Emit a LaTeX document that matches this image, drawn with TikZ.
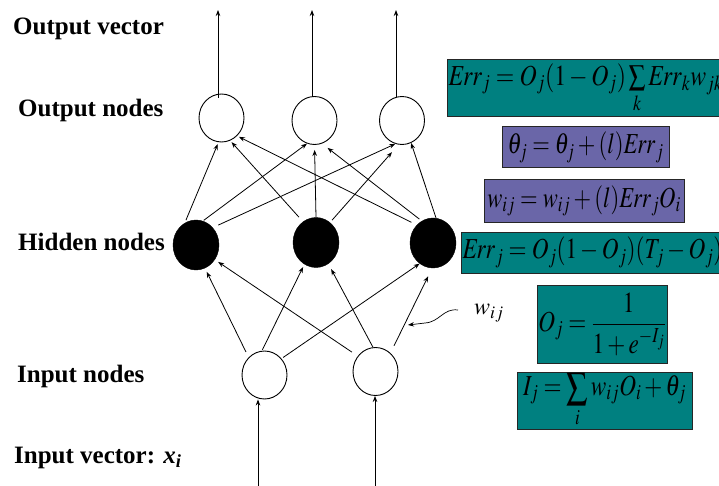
\documentclass[tikz,border=0pt]{standalone}
\usepackage{amsmath}
\usepackage{graphicx}
\usepackage{mathptmx}
\usepackage{fontspec}
\setmainfont{Liberation Serif}
\usetikzlibrary{shapes.geometric,arrows.meta}
\definecolor{tealc}{RGB}{0,128,128}
\definecolor{purplec}{RGB}{106,102,168}
\newcommand{\sqz}[2]{\scalebox{#1}[1]{#2}}
\newcommand{\bigsum}{\mathop{\raisebox{-0.12em}{\scalebox{1.3}{$\sum$}}}}
\tikzset{
  onode/.style={ellipse, draw, line width=0.9pt, fill=white, minimum width=45pt, minimum height=48pt, inner sep=0pt},
  hnode/.style={ellipse, draw, fill=black, minimum width=46pt, minimum height=50pt, inner sep=0pt},
  arr/.style={-{Stealth[length=6pt,width=4.5pt]}, line width=0.8pt},
  lab/.style={anchor=base west, inner sep=0pt, font=\bfseries\fontsize{25}{30}\selectfont},
  fbox/.style={draw=black!85, line width=1pt, inner sep=1pt, font=\fontsize{29}{33}\selectfont},
  tealbox/.style={fbox, fill=tealc},
  purplebox/.style={fbox, fill=purplec},
}
\begin{document}
\begin{tikzpicture}[x=1pt,y=-1pt]
\useasboundingbox (0,0) rectangle (719,486);
% labels
\node[lab] (lov) at (13,35) {Output vector};
\node[lab] (lon) at (18,117) {Output nodes};
\node[lab] (lhn) at (18,250) {Hidden nodes};
\node[lab] (lin) at (17,382) {Input nodes};
\node[lab] (liv) at (14,463) {Input vector: \textit{x}\textsubscript{\textit{i}}};
% nodes
\node[onode] (O1) at (221.5,118) {};
\node[onode] (O2) at (314.5,120.5) {};
\node[onode] (O3) at (402,120.5) {};
\node[hnode] (H1) at (196,245) {};
\node[hnode] (H2) at (316,242.5) {};
\node[hnode] (H3) at (433,243) {};
\node[onode] (I1) at (264.5,375) {};
\node[onode] (I2) at (375.5,371.5) {};
% output arrows
\coordinate (e1) at (218,10);
\coordinate (e2) at (312,10);
\coordinate (e3) at (396,10);
\draw[arr] ([yshift=-4pt]O1.north -| e1) -- (e1);
\draw[arr] ([yshift=-1pt]O2.north -| e2) -- (e2);
\draw[arr] ([yshift=-1pt]O3.north -| e3) -- (e3);
% input arrows
\coordinate (s1) at (258,490);
\coordinate (s2) at (375,490);
\draw[arr] (s1) -- (s1 |- I1.south);
\draw[arr] (s2) -- (s2 |- I2.south);
% hidden -> output
\draw[arr, shorten <=3pt, shorten >=2pt] (H1.117) -- (O1.263);
\draw[arr, shorten <=1pt] (H1.74) -- (O2.252);
\draw[arr, shorten <=6pt] (H1.46) -- (O3.254);
\draw[arr, shorten <=6pt, shorten >=2pt] (H2.122) -- (O1.291);
\draw[arr, shorten >=5pt] (H2.north) -- (O2.south);
\draw[arr, shorten <=3pt, shorten >=10pt] (H2.55) -- (O3.262);
\draw[arr, shorten <=6pt, shorten >=2pt] (H3.132) -- (O1.311);
\draw[arr, shorten <=3pt, shorten >=7pt] (H3.117) -- (O2.288);
\draw[arr] (H3.83) -- (O3.292);
% input -> hidden
\draw[arr, shorten <=6pt, shorten >=4pt] (I1.132) -- (H1.291);
\draw[arr, shorten <=1pt, shorten >=3pt] (I1.96) -- (H2.242);
\draw[arr, shorten <=2pt] (I1.44) -- (H3.237);
\draw[arr, shorten <=7pt, shorten >=4pt] (I2.139) -- (H1.322);
\draw[arr, shorten >=6pt] (I2.96) -- (H2.300);
\draw[arr, shorten <=8pt, shorten >=9pt] (I2.51) -- (H3.268);
% w_ij annotation
\node[anchor=west, inner sep=0pt, font=\fontsize{24}{28}\selectfont] (wl) at (474,313) {$w_{ij}$};
\coordinate (ws) at (458,310);
\coordinate (we) at (408,325);
\draw[arr, line width=0.7pt] (ws) .. controls (443,308) and (440,322) .. (425,323) -- (we);
% formula boxes
\node[tealbox, anchor=west, minimum height=57pt] (f1) at (447,88.5)
  {\sqz{0.82}{$\mathit{Err}_j = O_j(1-O_j)\sum\limits_k \mathit{Err}_k w_{jk}$}\hspace{20pt}};
\node[purplebox, minimum width=167pt, minimum height=41pt] (f2) at (585.5,147.5)
  {\sqz{0.78}{$\theta_j = \theta_j + (l)\mathit{Err}_j$}};
\node[purplebox, minimum width=200pt, minimum height=42pt] (f3) at (584,201)
  {\sqz{0.78}{$w_{ij} = w_{ij} + (l)\mathit{Err}_j O_i$}};
\node[tealbox, anchor=west, minimum height=41pt] (f4) at (461,252.5)
  {\sqz{0.8}{$\mathit{Err}_j = O_j(1-O_j)(T_j - O_j)$}\hspace{6pt}};
\node[tealbox, minimum width=130pt, minimum height=78pt] (f5) at (602,324)
  {\sqz{0.8}{$O_j = \dfrac{1}{1+e^{-I_j}}$}};
\node[tealbox, minimum width=175pt, minimum height=57pt] (f6) at (604.5,400.5)
  {\sqz{0.8}{$I_j = \bigsum\limits_i w_{ij} O_i + \theta_j$}};
\end{tikzpicture}
\end{document}
